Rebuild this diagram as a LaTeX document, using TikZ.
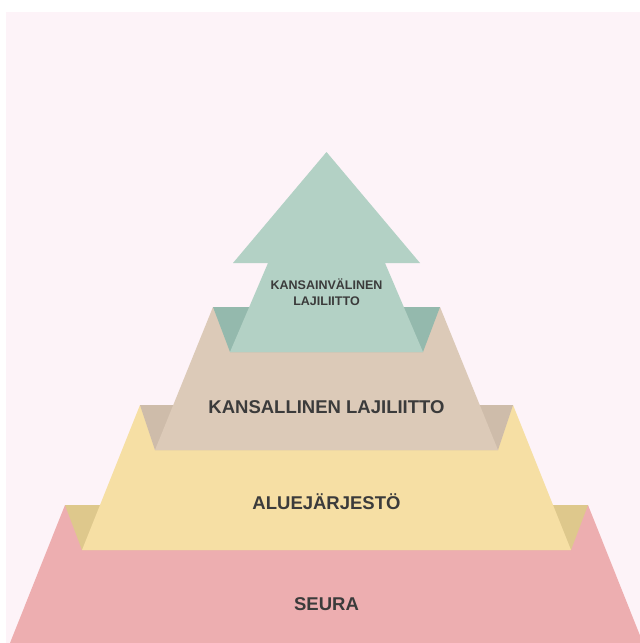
\documentclass[tikz,border=0pt]{standalone}
\usepackage{fontspec}
\setmainfont{Liberation Sans}
\definecolor{bgpink}{HTML}{FDF3F8}
\definecolor{seurapink}{HTML}{EDAEB0}
\definecolor{alueyellow}{HTML}{F6DFA4}
\definecolor{alueback}{HTML}{DEC88C}
\definecolor{kansbeige}{HTML}{DCCAB8}
\definecolor{kansback}{HTML}{CEBCAA}
\definecolor{intteal}{HTML}{B3D1C5}
\definecolor{intback}{HTML}{94B9AD}
\definecolor{labeltext}{HTML}{3B3B3B}
\begin{document}
\begin{tikzpicture}[x=1pt, y=-1pt,
    level/.style = {font=\bfseries\fontsize{18.5}{20}\selectfont, text=labeltext,
      inner sep=0pt, text height=13pt, text depth=0pt},
    toplevel/.style = {font=\bfseries\fontsize{12.5}{16}\selectfont, text=labeltext,
      inner sep=0pt, align=center}]
  \useasboundingbox (0,0) rectangle (640,643);
  \fill[bgpink] (6,12) rectangle (640,643);
  % seura
  \fill[seurapink] (65,505) -- (588,505) -- (643,643) -- (10,643) -- cycle;
  % aluejarjesto
  \fill[alueback] (65,505) -- (588,505) -- (571,550) -- (82,550) -- cycle;
  \fill[alueyellow] (140,405) -- (513,405) -- (571,550) -- (82,550) -- cycle;
  % kansallinen
  \fill[kansback] (140,405) -- (513,405) -- (498,450) -- (155,450) -- cycle;
  \fill[kansbeige] (213,307) -- (440,307) -- (498,450) -- (155,450) -- cycle;
  % kansainvalinen (arrow)
  \fill[intback] (213,307) -- (440,307) -- (423,352) -- (230,352) -- cycle;
  \fill[intteal] (326.5,152) -- (420,263) -- (385,263) -- (423,352)
    -- (230,352) -- (268,263) -- (233,263) -- cycle;

  \node[toplevel] (intl) at (326.5,292) {KANSAINVÄLINEN\\LAJILIITTO};
  \node[level] (natl) at (326.5,407) {KANSALLINEN LAJILIITTO};
  \node[level] (region) at (326.5,503) {ALUEJÄRJESTÖ};
  \node[level] (club) at (326.5,604) {SEURA};
\end{tikzpicture}
\end{document}
